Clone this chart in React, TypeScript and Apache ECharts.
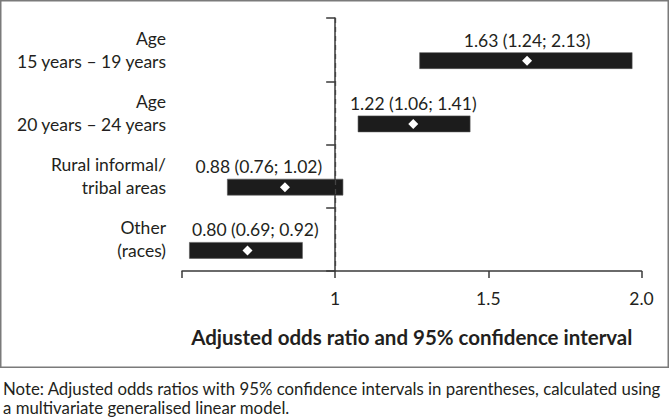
import React, { useEffect, useRef } from "react";
import * as echarts from "echarts";

// ---- data ----
const categories = [
  "Age\n15 years – 19 years",
  "Age\n20 years – 24 years",
  "Rural informal/\ntribal areas",
  "Other\n(races)",
];
const oddsRatios = [1.63, 1.22, 0.88, 0.8];
const ciLower = [1.24, 1.06, 0.76, 0.69];
const ciUpper = [2.13, 1.41, 1.02, 0.92];
const xTickLabels = ["", "1", "1.5", "2.0"];
const xAxisTitle = "Adjusted odds ratio and 95% confidence interval";
const noteLines = [
  "Note: Adjusted odds ratios with 95% confidence intervals in parentheses, calculated using",
  "a multivariate generalised linear model.",
];

// the axis is drawn in natural-log space
const LOG_STEP = 0.39;

const FONT = "Lato, 'Open Sans', sans-serif";
const TEXT = "#231f20";
const LABEL_SIZE = 17.5;

const fmt = (v: number) => v.toFixed(2);
const barLabels = oddsRatios.map(
  (v, i) => `${fmt(v)} (${fmt(ciLower[i])}; ${fmt(ciUpper[i])})`
);

let ctx: CanvasRenderingContext2D | null = null;
const measure = (text: string, font: string) => {
  if (!ctx) ctx = document.createElement("canvas").getContext("2d");
  if (!ctx) return text.length * 8;
  ctx.font = font;
  return ctx.measureText(text).width;
};

export default function App() {
  const ref = useRef<HTMLDivElement>(null);

  useEffect(() => {
    if (!ref.current) return;
    const chart = echarts.init(ref.current, undefined, { renderer: "svg" });

    const data = categories.map((_, i) => [
      i,
      Math.log(ciLower[i]),
      Math.log(ciUpper[i]),
      Math.log(oddsRatios[i]),
    ]);

    const option: any = {
      animation: false,
      backgroundColor: "#ffffff",
      grid: { left: 182, right: 28.5, top: 18, bottom: 146 },
      xAxis: {
        type: "value",
        min: -LOG_STEP,
        max: 2 * LOG_STEP,
        interval: LOG_STEP,
        axisLine: { show: true, lineStyle: { color: "#3a3a3a", width: 1.5 } },
        axisTick: { show: true, length: 7, lineStyle: { color: "#3a3a3a", width: 1.5 } },
        splitLine: { show: false },
        axisLabel: {
          color: TEXT,
          fontFamily: FONT,
          fontSize: LABEL_SIZE,
          margin: 18,
          formatter: (v: number) => xTickLabels[Math.round(v / LOG_STEP) + 1] ?? "",
        },
        name: xAxisTitle,
        nameLocation: "middle",
        nameGap: 55,
        nameTextStyle: {
          color: TEXT,
          fontFamily: FONT,
          fontWeight: "bold",
          fontSize: 20.5,
        },
      },
      yAxis: {
        type: "category",
        data: categories,
        inverse: true,
        axisLine: { show: true, lineStyle: { color: "#3a3a3a", width: 1.5 } },
        axisTick: { show: true, length: 9, lineStyle: { color: "#3a3a3a", width: 1.5 } },
        splitLine: { show: false },
        axisLabel: {
          color: TEXT,
          fontFamily: FONT,
          fontSize: LABEL_SIZE,
          lineHeight: 23,
          margin: 16,
          align: "right",
        },
      },
      series: [
        {
          type: "line",
          data: [],
          silent: true,
          markLine: {
            silent: true,
            symbol: "none",
            label: { show: false },
            lineStyle: { type: [5, 4], color: "#444444", width: 1.3 },
            data: [{ xAxis: 0 }],
          },
        },
        {
          type: "custom",
          encode: { y: 0, x: [1, 2, 3] },
          data,
          renderItem: (params: any, api: any) => {
            const cat = api.value(0);
            const lo = api.value(1);
            const hi = api.value(2);
            const est = api.value(3);
            const pLo = api.coord([lo, cat]);
            const pHi = api.coord([hi, cat]);
            const pEst = api.coord([est, cat]);
            const pRef = api.coord([0, cat]);
            const band = api.size([0, 1])[1];
            const yc = pLo[1];
            const barH = band * 0.253;
            const barCy = yc + band * 0.174;
            const labelCy = barCy - 20.5;
            const label = barLabels[params.dataIndex];
            const w = measure(label, `${LABEL_SIZE}px ${FONT}`);
            const gridLeft = params.coordSys.x;
            let cx = pEst[0];
            if (pEst[0] < pRef[0] && cx + w / 2 > pRef[0] - 13) cx = pRef[0] - 13 - w / 2;
            if (cx - w / 2 < gridLeft + 10) cx = gridLeft + 10 + w / 2;
            const d = 5;
            return {
              type: "group",
              children: [
                {
                  type: "rect",
                  shape: { x: pLo[0], y: barCy - barH / 2, width: pHi[0] - pLo[0], height: barH },
                  style: { fill: "#1c1c1c", stroke: "#555", lineWidth: 0.6 },
                },
                {
                  type: "polygon",
                  shape: {
                    points: [
                      [pEst[0], barCy - d],
                      [pEst[0] + d, barCy],
                      [pEst[0], barCy + d],
                      [pEst[0] - d, barCy],
                    ],
                  },
                  style: { fill: "#ffffff" },
                },
                {
                  type: "text",
                  x: cx,
                  y: labelCy,
                  style: {
                    text: label,
                    fill: TEXT,
                    fontSize: LABEL_SIZE,
                    fontFamily: FONT,
                    align: "center",
                    verticalAlign: "middle",
                  },
                },
              ],
            };
          },
        },
      ],
      graphic: [
        {
          type: "rect",
          shape: { x: 0.75, y: 0.75, width: 667.5, height: 366.5 },
          style: { fill: "none", stroke: "#7a7a7a", lineWidth: 1.5 },
          silent: true,
        },
        {
          type: "text",
          left: 3,
          top: 378.5,
          style: {
            text: noteLines.join("\n"),
            fill: TEXT,
            fontFamily: FONT,
            fontSize: 16.8,
            lineHeight: 19,
          },
        },
      ],
    };

    chart.setOption(option);
    return () => chart.dispose();
  }, []);

  return (
    <div
      ref={ref}
      style={{ position: "absolute", left: 0, top: 0, width: 670, height: 417 }}
    />
  );
}
